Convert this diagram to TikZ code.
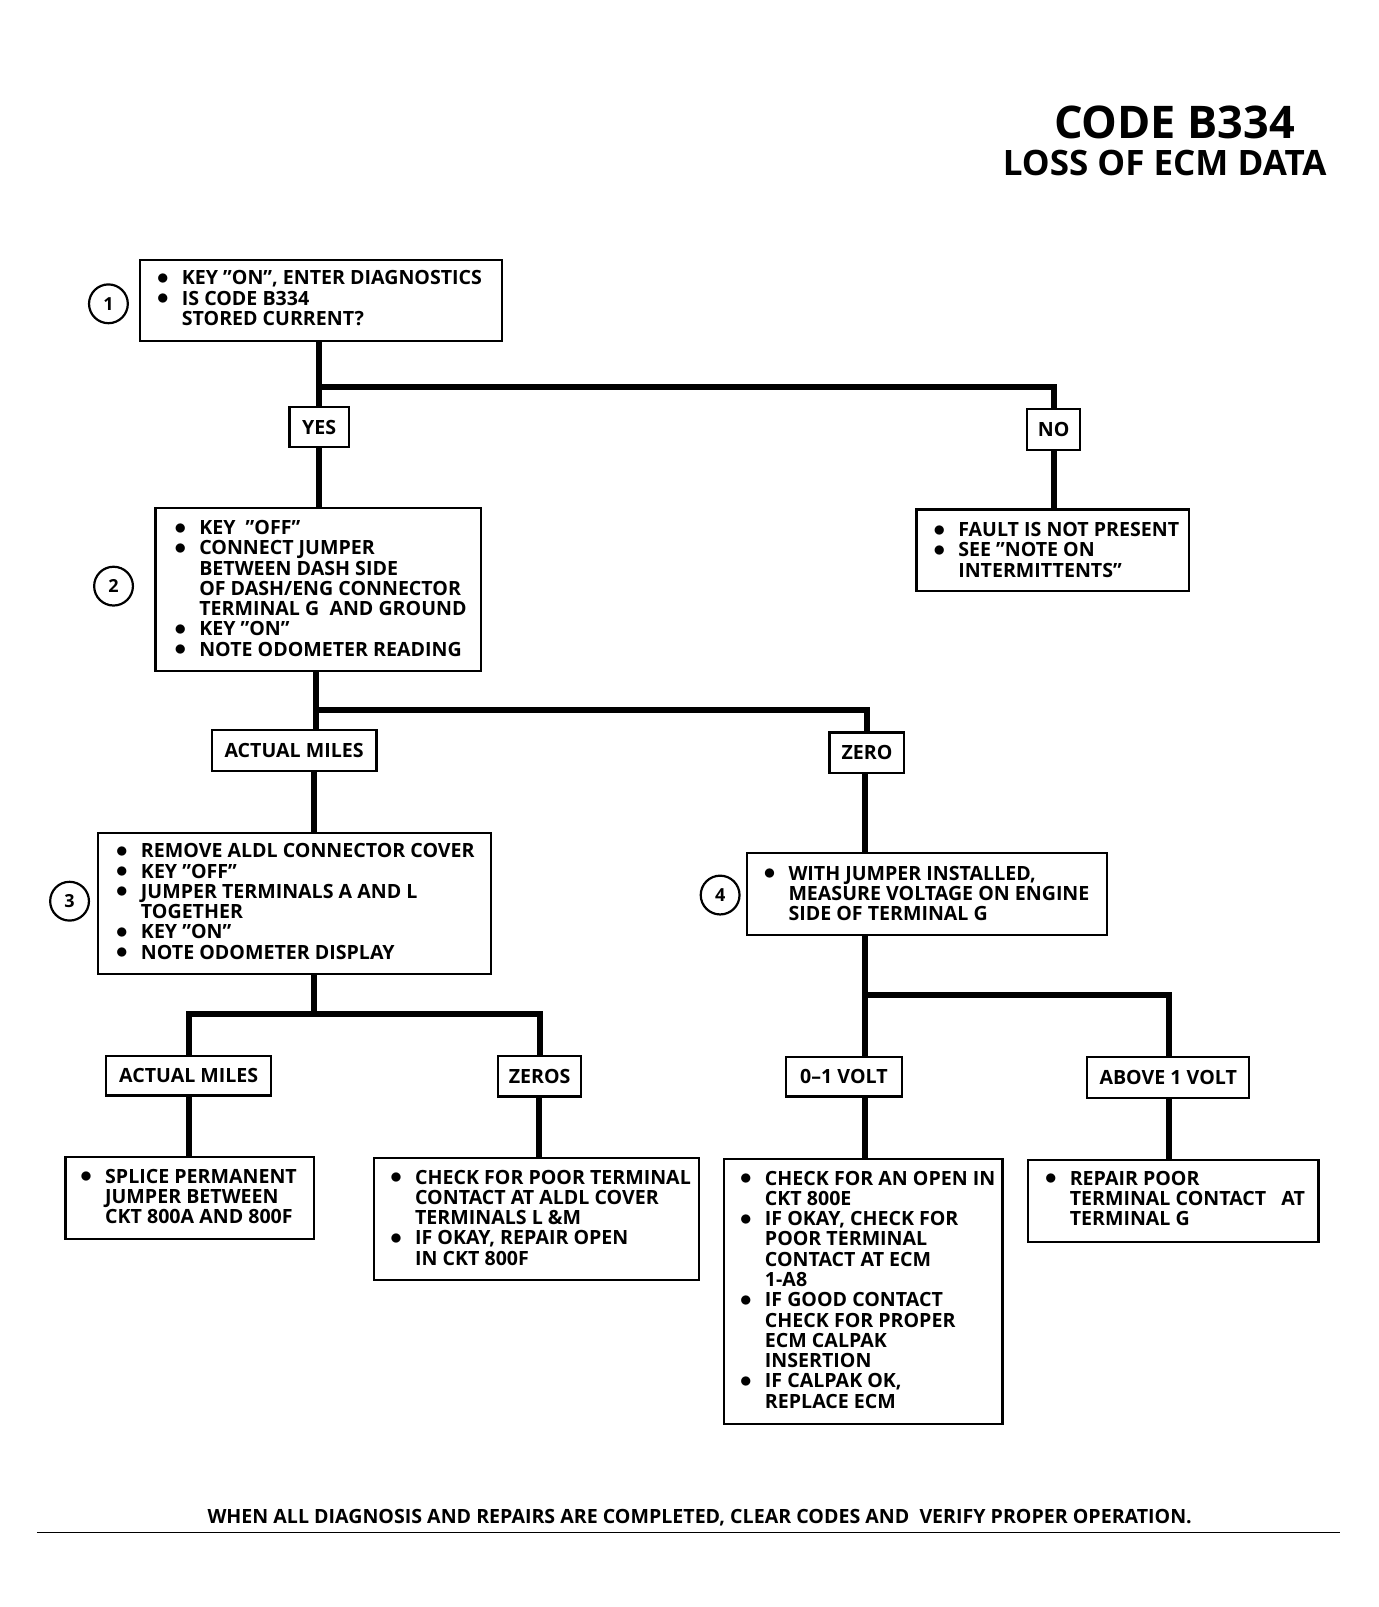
\documentclass[tikz,border=0pt]{standalone}
\usepackage{fontspec}
\setmainfont{Open Sans}
\usetikzlibrary{fit}
\newcommand\bitem{\makebox[12.5pt][l]{\raisebox{0.15pt}{\fontsize{13}{13}\selectfont$\bullet$}}}
\newcommand\bcont{\hspace*{12.5pt}}
\tikzset{
  box/.style={draw, line width=1.1pt, inner sep=0pt, rectangle},
  lab/.style={draw, line width=1.1pt, inner sep=0pt, rectangle},
  labtxt/.style={inner sep=0pt, anchor=center, font=\fontsize{9.8}{10.13}\selectfont\bfseries},
  txt/.style={anchor=base west, inner sep=0pt, font=\fontsize{9.8}{10.13}\selectfont\bfseries},
  conn/.style={line width=3pt},
  num/.style={draw, circle, line width=1.1pt, minimum size=19.4pt, inner sep=0pt, font=\fontsize{9}{10}\selectfont\bfseries},
}
\begin{document}
\begin{tikzpicture}[x=0.5115pt, y=-0.5115pt]
\useasboundingbox (0,0) rectangle (1348,1571);

% title
\node[anchor=base west, inner sep=0pt, font=\fontsize{22.5}{24}\selectfont\bfseries] (title) at (1030,135) {CODE B334};
\node[anchor=base west, inner sep=0pt, font=\fontsize{17.5}{20}\selectfont\bfseries] (subtitle) at (980,172) {LOSS OF ECM DATA};

% boxes
\node[box, fit={(137,254) (491,333)}] (b1) {};
\node[txt] (t1) at (153,278.5) {\begin{tabular}[t]{@{}l@{}}
\bitem KEY "ON", ENTER DIAGNOSTICS\\
\bitem IS CODE B334\\
\bcont STORED CURRENT?
\end{tabular}};
\node[num] (c1) at (106,297) {1};

\node[lab, fit={(283,398) (341,437)}] (yes) {};
\node[labtxt] (yest) at (yes.center) {YES};
\node[lab, fit={(1004,400) (1056,440)}] (no) {};
\node[labtxt] (not) at (no.center) {NO};

\node[box, fit={(152,497) (470,656)}] (b2) {};
\node[txt] (t2) at (170,522.5) {\begin{tabular}[t]{@{}l@{}}
\bitem KEY\ \ "OFF"\\
\bitem CONNECT JUMPER\\
\bcont BETWEEN DASH SIDE\\
\bcont OF DASH/ENG CONNECTOR\\
\bcont TERMINAL\ G\ \ AND GROUND\\
\bitem KEY "ON"\\
\bitem NOTE ODOMETER READING
\end{tabular}};
\node[num] (c2) at (111,573) {2};

\node[box, fit={(896,498) (1162,578)}] (bf) {};
\node[txt] (tf) at (912,524.5) {\begin{tabular}[t]{@{}l@{}}
\bitem FAULT IS NOT PRESENT\\
\bitem SEE "NOTE ON\\
\bcont INTERMITTENTS"
\end{tabular}};

\node[lab, fit={(207,714) (368,754)}] (am1) {};
\node[labtxt] (am1t) at (am1.center) {ACTUAL MILES};
\node[lab, fit={(811,716) (884,756)}] (zero) {};
\node[labtxt] (zerot) at (zero.center) {ZERO};

\node[box, fit={(96,814) (480,952)}] (b3) {};
\node[txt] (t3) at (113,838.5) {\begin{tabular}[t]{@{}l@{}}
\bitem REMOVE ALDL CONNECTOR COVER\\
\bitem KEY "OFF"\\
\bitem JUMPER TERMINALS A AND L\\
\bcont TOGETHER\\
\bitem KEY "ON"\\
\bitem NOTE ODOMETER DISPLAY
\end{tabular}};
\node[num] (c3) at (68,881) {3};

\node[box, fit={(730,834) (1082,914)}] (b4) {};
\node[txt] (t4) at (746,860.5) {\begin{tabular}[t]{@{}l@{}}
\bitem WITH JUMPER INSTALLED,\\
\bcont MEASURE VOLTAGE ON ENGINE\\
\bcont SIDE OF TERMINAL G
\end{tabular}};
\node[num] (c4) at (704,875) {4};

\node[lab, fit={(104,1032) (265,1071)}] (am2) {};
\node[labtxt] (am2t) at (am2.center) {ACTUAL MILES};
\node[lab, fit={(487,1032) (568,1072)}] (zeros) {};
\node[labtxt] (zerost) at (zeros.center) {ZEROS};
\node[lab, fit={(768,1033) (882,1072)}] (volt01) {};
\node[labtxt] (volt01t) at (volt01.center) {0–1 VOLT};
\node[lab, fit={(1063,1033) (1221,1073)}] (above) {};
\node[labtxt] (abovet) at (above.center) {ABOVE 1 VOLT};

\node[box, fit={(64,1131) (307,1211)}] (bs) {};
\node[txt] (ts) at (78,1156.5) {\begin{tabular}[t]{@{}l@{}}
\bitem SPLICE PERMANENT\\
\bcont JUMPER BETWEEN\\
\bcont CKT 800A AND 800F
\end{tabular}};

\node[box, fit={(366,1132) (683,1251)}] (bp) {};
\node[txt] (tp) at (381,1157.5) {\begin{tabular}[t]{@{}l@{}}
\bitem CHECK FOR POOR TERMINAL\\
\bcont CONTACT AT ALDL COVER\\
\bcont TERMINALS L \&M\\
\bitem IF OKAY, REPAIR OPEN\\
\bcont IN CKT 800F
\end{tabular}};

\node[box, fit={(708,1133) (980,1392)}] (bo) {};
\node[txt] (to) at (723,1158.5) {\begin{tabular}[t]{@{}l@{}}
\bitem CHECK FOR AN OPEN IN\\
\bcont CKT 800E\\
\bitem IF OKAY, CHECK FOR\\
\bcont POOR TERMINAL\\
\bcont CONTACT AT ECM\\
\bcont 1-A8\\
\bitem IF GOOD CONTACT\\
\bcont CHECK FOR PROPER\\
\bcont ECM CALPAK\\
\bcont INSERTION\\
\bitem IF CALPAK OK,\\
\bcont REPLACE ECM
\end{tabular}};

\node[box, fit={(1005,1134) (1289,1214)}] (br) {};
\node[txt] (tr) at (1021,1158.5) {\begin{tabular}[t]{@{}l@{}}
\bitem REPAIR POOR\\
\bcont TERMINAL CONTACT\ \ \ AT\\
\bcont TERMINAL\ G
\end{tabular}};

% junctions
\coordinate (j1) at (312,378);
\coordinate (j2) at (309,694);
\coordinate (j3) at (307,991);
\coordinate (j4) at (846,973);

% connectors
\draw[conn] (b1.south -| yes.north) -- (yes.north);
\draw[conn] (j1) -| (no.north);
\draw[conn] (yes.south) -- (yes.south |- b2.north);
\draw[conn] (no.south) -- (no.south |- bf.north);

\draw[conn] (b2.south -| j2) -- (j2 |- am1.north);
\draw[conn] (j2) -| (zero.north);
\draw[conn] (am1.south -| j3) -- (j3 |- b3.north);
\draw[conn] (zero.south -| j4) -- (j4 |- b4.north);

\draw[conn] (b3.south -| j3) -- (j3);
\draw[conn] (am2.north) |- (j3) -| (zeros.north);
\draw[conn] (am2.south) -- (am2.south |- bs.north);
\draw[conn] (zeros.south -| 527,0) -- (bp.north -| 527,0);

\draw[conn] (b4.south -| j4) -- (j4 |- volt01.north);
\draw[conn] (j4) -| (above.north -| 1143,0);
\draw[conn] (volt01.south -| j4) -- (bo.north -| j4);
\draw[conn] (above.south -| 1143,0) -- (br.north -| 1143,0);

% footer
\node[anchor=base, inner sep=0pt, font=\fontsize{9.8}{10}\selectfont\bfseries] (foot) at (684,1489) {WHEN ALL DIAGNOSIS AND REPAIRS ARE COMPLETED, CLEAR CODES AND\ \ VERIFY PROPER OPERATION.};
\draw[line width=0.8pt] (36,1498) -- (1310,1498);
\end{tikzpicture}
\end{document}
